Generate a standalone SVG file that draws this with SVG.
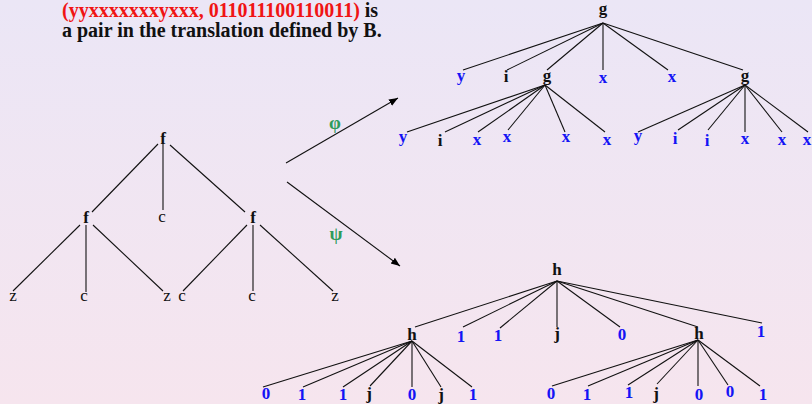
<svg xmlns="http://www.w3.org/2000/svg" width="812" height="404" viewBox="0 0 812 404">
<defs>
<linearGradient id="bg" x1="0" y1="0" x2="0" y2="1">
<stop offset="0" stop-color="#ebe6f6"/>
<stop offset="1" stop-color="#f6e5ee"/>
</linearGradient>
<marker id="ah" viewBox="0 0 10 10" refX="10" refY="5" markerWidth="9" markerHeight="9" markerUnits="userSpaceOnUse" orient="auto">
<path d="M0,1 L10,5 L0,9 z" fill="#000"/>
</marker>
<style>
text{font-family:"Liberation Serif","Times New Roman",serif;font-size:17px;text-anchor:middle}
.b{font-weight:bold;fill:#111}
.bl{font-weight:bold;fill:#1414f5}
.n{fill:#111}
.gr{font-weight:bold;fill:#2e9b5b;font-size:19px}
.hd{font-size:20px;font-weight:bold;text-anchor:start;fill:#111}
.red{fill:#f01414}
.e line{stroke:#111;stroke-width:1.1}
.ar{stroke:#111;stroke-width:1;marker-end:url(#ah)}
</style>
</defs>
<rect width="812" height="404" fill="url(#bg)"/>
<g id="caption">
<text class="hd" x="62" y="17"><tspan class="red">(yyxxxxxxxyxxx, 011011100110011)</tspan> is</text>
<text class="hd" x="62" y="37">a pair in the translation defined by B.</text>
</g>
<g id="connectors" class="e">
<line x1="158" y1="144" x2="92" y2="212"/>
<line x1="163" y1="144" x2="163" y2="210"/>
<line x1="170" y1="145" x2="245" y2="212"/>
<line x1="80" y1="225" x2="13" y2="291"/>
<line x1="86" y1="225" x2="86" y2="292"/>
<line x1="93" y1="225" x2="163" y2="291"/>
<line x1="247" y1="225" x2="183" y2="291"/>
<line x1="253" y1="225" x2="253" y2="291"/>
<line x1="260" y1="225" x2="333" y2="291"/>
<line x1="603" y1="23" x2="463" y2="70"/>
<line x1="603" y1="23" x2="507" y2="70"/>
<line x1="603" y1="23" x2="547" y2="70"/>
<line x1="603" y1="23" x2="603" y2="70"/>
<line x1="603" y1="23" x2="668" y2="70"/>
<line x1="603" y1="23" x2="743" y2="70"/>
<line x1="545" y1="85" x2="407" y2="132"/>
<line x1="545" y1="85" x2="445" y2="132"/>
<line x1="545" y1="85" x2="478" y2="132"/>
<line x1="545" y1="85" x2="508" y2="130"/>
<line x1="545" y1="85" x2="565" y2="132"/>
<line x1="545" y1="85" x2="605" y2="132"/>
<line x1="745" y1="85" x2="638" y2="132"/>
<line x1="745" y1="85" x2="678" y2="130"/>
<line x1="745" y1="85" x2="708" y2="130"/>
<line x1="745" y1="85" x2="745" y2="132"/>
<line x1="745" y1="85" x2="782" y2="132"/>
<line x1="745" y1="85" x2="808" y2="132"/>
<line x1="557" y1="281" x2="415" y2="327"/>
<line x1="557" y1="281" x2="463" y2="327"/>
<line x1="557" y1="281" x2="500" y2="328"/>
<line x1="557" y1="281" x2="557" y2="327"/>
<line x1="557" y1="281" x2="620" y2="327"/>
<line x1="557" y1="281" x2="698" y2="327"/>
<line x1="557" y1="281" x2="762" y2="323"/>
<line x1="412" y1="341" x2="263" y2="387"/>
<line x1="412" y1="341" x2="303" y2="387"/>
<line x1="412" y1="341" x2="343" y2="387"/>
<line x1="412" y1="341" x2="370" y2="386"/>
<line x1="412" y1="341" x2="412" y2="387"/>
<line x1="412" y1="341" x2="441" y2="387"/>
<line x1="412" y1="341" x2="472" y2="387"/>
<line x1="698" y1="340" x2="552" y2="386"/>
<line x1="698" y1="340" x2="588" y2="386"/>
<line x1="698" y1="340" x2="628" y2="385"/>
<line x1="698" y1="340" x2="657" y2="384"/>
<line x1="698" y1="340" x2="698" y2="386"/>
<line x1="698" y1="340" x2="728" y2="385"/>
<line x1="698" y1="340" x2="760" y2="386"/>
<line class="ar" x1="286" y1="163" x2="398" y2="98"/>
<line class="ar" x1="287" y1="182" x2="400" y2="266"/>
</g>
<g id="labels-arrows">
<text class="gr" x="335" y="129">φ</text>
<text class="gr" x="336" y="240">ψ</text>
</g>
<g id="f-root"><text class="b" x="163" y="144">f</text></g>
<g id="f-left"><text class="b" x="86" y="223">f</text></g>
<g id="c-mid"><text class="n" x="162" y="222">c</text></g>
<g id="f-right"><text class="b" x="253" y="223">f</text></g>
<g id="z1"><text class="n" x="13" y="301">z</text></g>
<g id="c1"><text class="n" x="84" y="301">c</text></g>
<g id="z2"><text class="n" x="167" y="301">z</text></g>
<g id="c2"><text class="n" x="182" y="301">c</text></g>
<g id="c3"><text class="n" x="252" y="301">c</text></g>
<g id="z3"><text class="n" x="335" y="301">z</text></g>
<g id="g-root"><text class="b" x="603" y="14">g</text></g>
<g id="t-y1"><text class="bl" x="461" y="81">y</text></g>
<g id="t-i1"><text class="b" x="506" y="82">i</text></g>
<g id="g-mid"><text class="b" x="547" y="81">g</text></g>
<g id="t-x1"><text class="bl" x="603" y="83">x</text></g>
<g id="t-x2"><text class="bl" x="672" y="82">x</text></g>
<g id="g-right"><text class="b" x="745" y="81">g</text></g>
<g id="t-y2"><text class="bl" x="403" y="142">y</text></g>
<g id="t-i2"><text class="b" x="440" y="146">i</text></g>
<g id="t-x3"><text class="bl" x="477" y="145">x</text></g>
<g id="t-x4"><text class="bl" x="507" y="142">x</text></g>
<g id="t-x5"><text class="bl" x="566" y="142">x</text></g>
<g id="t-x6"><text class="bl" x="607" y="145">x</text></g>
<g id="t-y3"><text class="bl" x="638" y="141">y</text></g>
<g id="t-i3"><text class="bl" x="675" y="144">i</text></g>
<g id="t-i4"><text class="bl" x="707" y="146">i</text></g>
<g id="t-x7"><text class="bl" x="745" y="144">x</text></g>
<g id="t-x8"><text class="bl" x="782" y="145">x</text></g>
<g id="t-x9"><text class="bl" x="807" y="145">x</text></g>
<g id="h-root"><text class="b" x="557" y="275">h</text></g>
<g id="h-left"><text class="b" x="412" y="340">h</text></g>
<g id="b-1a"><text class="bl" x="461" y="342">1</text></g>
<g id="b-1b"><text class="bl" x="498" y="341">1</text></g>
<g id="b-j1"><text class="b" x="557" y="339">j</text></g>
<g id="b-0a"><text class="bl" x="622" y="340">0</text></g>
<g id="h-right"><text class="b" x="699" y="339">h</text></g>
<g id="b-1c"><text class="bl" x="761" y="337">1</text></g>
<g id="l-0a"><text class="bl" x="266" y="399">0</text></g>
<g id="l-1a"><text class="bl" x="302" y="400">1</text></g>
<g id="l-1b"><text class="bl" x="343" y="400">1</text></g>
<g id="l-j1"><text class="b" x="369" y="399">j</text></g>
<g id="l-0b"><text class="bl" x="412" y="400">0</text></g>
<g id="l-j2"><text class="b" x="441" y="400">j</text></g>
<g id="l-1c"><text class="bl" x="473" y="400">1</text></g>
<g id="r-0a"><text class="bl" x="551" y="399">0</text></g>
<g id="r-1a"><text class="bl" x="587" y="400">1</text></g>
<g id="r-1b"><text class="bl" x="629" y="398">1</text></g>
<g id="r-j1"><text class="b" x="656" y="399">j</text></g>
<g id="r-0b"><text class="bl" x="699" y="400">0</text></g>
<g id="r-0c"><text class="bl" x="730" y="397">0</text></g>
<g id="r-1c"><text class="bl" x="763" y="400">1</text></g>
</svg>
